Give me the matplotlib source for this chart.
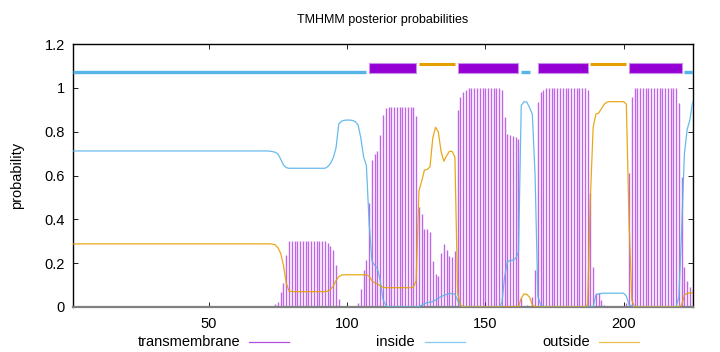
import matplotlib
matplotlib.use("Agg")
import matplotlib.pyplot as plt
from matplotlib.lines import Line2D
import numpy as np

plt.rcParams['font.family'] = ['Liberation Sans', 'DejaVu Sans']

# ---------------- data ----------------
residues = list(range(1, 226))

tm = ([0.0] * 71 +
      [0.004, 0.006, 0.012, 0.024, 0.07, 0.11, 0.237] +             # 72-78
      [0.30] * 14 +                                                   # 79-92
      [0.29, 0.28, 0.26, 0.19, 0.035, 0.004, 0.0, 0.004, 0.0, 0.002,  # 93-102
       0.004, 0.017, 0.081, 0.169, 0.214, 0.476, 0.67, 0.698, 0.713,  # 103-111
       0.785, 0.876, 0.906] +                                         # 112-114
      [0.913] * 10 +                                                  # 115-124
      [0.87, 0.458, 0.423, 0.356, 0.356, 0.34, 0.21, 0.15, 0.143,     # 125-133
       0.248, 0.287, 0.26, 0.234, 0.23, 0.257, 0.90, 0.96, 0.98, 0.99] +  # 134-143
      [1.0] * 12 +                                                    # 144-155
      [0.99, 0.866, 0.79, 0.785, 0.78, 0.775, 0.765, 0.04, 0.003,     # 156-164
       0.01, 0.005, 0.047, 0.17, 0.937, 0.98, 0.99] +                 # 165-171
      [1.0] * 15 +                                                    # 172-186
      [0.99, 0.52, 0.184, 0.065, 0.065, 0.032, 0.008, 0.002, 0.0,     # 187-195
       0.0, 0.0, 0.0, 0.002, 0.004, 0.018, 0.613, 0.957] +            # 196-203
      [1.0] * 16 +                                                    # 204-219
      [0.93, 0.595, 0.184, 0.119, 0.093, 0.08])                       # 220-225

inside = ([0.712] * 71 +
          [0.711, 0.709, 0.706, 0.698, 0.675, 0.648, 0.636] +         # 72-78
          [0.633] * 14 +                                              # 79-92
          [0.64, 0.655, 0.68, 0.725, 0.835, 0.848, 0.852, 0.853,      # 93-100
           0.853, 0.851, 0.846, 0.83, 0.77, 0.684, 0.645, 0.38,       # 101-108
           0.21, 0.19, 0.175, 0.12, 0.035, 0.008] +                   # 109-114
          [0.0] * 11 +                                                # 115-125
          [0.003, 0.008, 0.015, 0.02, 0.022, 0.025, 0.032, 0.04,      # 126-133
           0.047, 0.053, 0.058, 0.061, 0.062, 0.058, 0.03, 0.005] +   # 134-141
          [0.0] * 14 +                                                # 142-155
          [0.02, 0.14, 0.207, 0.212, 0.214, 0.222, 0.25, 0.92, 0.937, # 156-164
           0.935, 0.91, 0.88, 0.6, 0.05, 0.01, 0.003] +               # 165-171
          [0.0] * 18 +                                                # 172-189
          [0.055, 0.06, 0.062] +                                      # 190-192
          [0.063] * 8 +                                               # 193-200
          [0.05, 0.01, 0.005] +                                       # 201-203
          [0.0] * 16 +                                                # 204-219
          [0.047, 0.35, 0.70, 0.81, 0.855, 0.937])                    # 220-225

outside = ([0.288] * 72 +
           [0.287, 0.284, 0.27, 0.245, 0.19, 0.11, 0.073] +           # 73-79
           [0.07] * 13 +                                              # 80-92
           [0.072, 0.08, 0.095, 0.12, 0.138, 0.146] +                 # 93-98
           [0.147] * 9 +                                              # 99-107
           [0.14, 0.12, 0.11, 0.105, 0.097, 0.09] +                   # 108-113
           [0.088] * 10 +                                             # 114-123
           [0.09, 0.12, 0.53, 0.575, 0.625, 0.627, 0.64, 0.77, 0.82,  # 124-132
            0.80, 0.71, 0.665, 0.69, 0.71, 0.71, 0.685, 0.06, 0.01] + # 133-141
           [0.0] * 21 +                                               # 142-162
           [0.04, 0.06, 0.058, 0.045, 0.01] +                         # 163-167
           [0.0] * 19 +                                               # 168-186
           [0.01, 0.5, 0.82, 0.88, 0.885, 0.905, 0.925, 0.935] +      # 187-194
           [0.937] * 6 +                                              # 195-200
           [0.925, 0.38, 0.03] +                                      # 201-203
           [0.0] * 17 +                                               # 204-220
           [0.01, 0.055, 0.062, 0.064, 0.065])                        # 221-225

# predicted topology segments (start, end, type)
seg_start = [1, 108, 126, 140, 163, 169, 188, 202, 222]
seg_end   = [107, 125, 139, 162, 166, 187, 201, 221, 225]
seg_type  = ['inside', 'TM', 'outside', 'TM', 'inside', 'TM', 'outside', 'TM', 'inside']

title = "TMHMM posterior probabilities"
ylabel = "probability"
xticks = [50, 100, 150, 200]
yticks = [0, 0.2, 0.4, 0.6, 0.8, 1.0, 1.2]
ytick_labels = ["0", "0.2", "0.4", "0.6", "0.8", "1", "1.2"]
legend_labels = ["transmembrane", "inside", "outside"]

C_TM = '#9400D3'
C_IN = '#56B4E9'
C_OUT = '#E69F00'

# ---------------- figure ----------------
W, H = 720, 352
fig = plt.figure(figsize=(W / 100, H / 100), dpi=100)
ax = fig.add_axes([73.3 / W, 1 - 307 / H, (692.7 - 73.3) / W, (307 - 44) / H])

x = np.array(residues)
ax.vlines(x, 0, np.array(tm), colors=C_TM, linewidth=1.0, alpha=0.6, zorder=2)
ax.plot(x, inside, color=C_IN, lw=0.9, alpha=0.9, zorder=3)
ax.plot(x, outside, color=C_OUT, lw=0.9, alpha=0.9, zorder=3)

for s, e, t in zip(seg_start, seg_end, seg_type):
    if t == 'TM':
        ax.fill_between([s, e], 1.066, 1.115, color=C_TM, lw=0.8,
                        edgecolor='#c890e8', zorder=4)
    elif t == 'inside':
        ax.hlines(1.070, s, e, colors=C_IN, lw=2.4, zorder=4)
    else:
        ax.hlines(1.110, s, e, colors=C_OUT, lw=2.2, zorder=4)

ax.set_xlim(1, 225)
ax.set_ylim(0, 1.2)
ax.set_xticks(xticks)
ax.set_yticks(yticks)
ax.set_yticklabels(ytick_labels)
ax.tick_params(direction='in', length=3.5, width=0.6, top=True, right=True,
               labelsize=10.5, pad=6, colors='#000000')
ax.tick_params(axis='x', pad=7)
for sp in ax.spines.values():
    sp.set_linewidth(1.0)
    sp.set_color('#000000')
ax.spines['bottom'].set_color('#808080')
ax.spines['bottom'].set_linewidth(1.6)

fig.text(383 / W, 1 - 20 / H, title, ha='center', va='center', fontsize=9.0)
fig.text(17 / W, 1 - 175 / H, ylabel, ha='center', va='center',
         rotation=90, fontsize=10.5)

# gnuplot-style legend: right-aligned text followed by sample line
leg_text_right = [240, 414.5, 590]
leg_line_start = [249, 424.6, 599]
leg_colors = [C_TM, C_IN, C_OUT]
ly = 1 - 341.5 / H
for lab, tr, ls, c in zip(legend_labels, leg_text_right, leg_line_start, leg_colors):
    fig.text(tr / W, ly, lab, ha='right', va='center', fontsize=10.5)
    fig.add_artist(Line2D([ls / W, (ls + 40) / W], [ly, ly], color=c,
                          lw=0.9, alpha=0.7, transform=fig.transFigure))

fig.savefig("out.png", dpi=100)
